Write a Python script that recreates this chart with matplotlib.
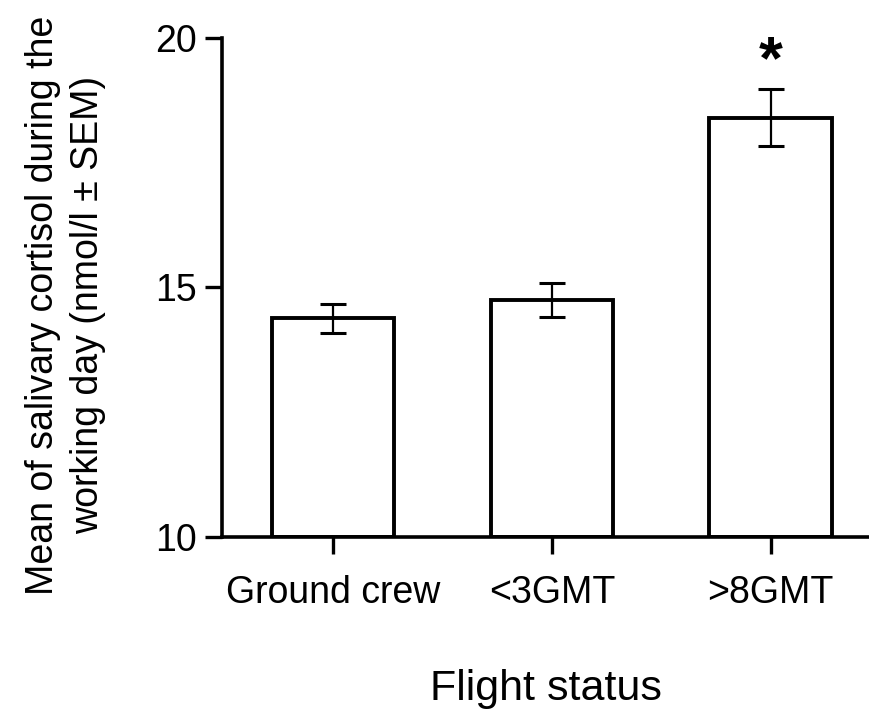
import matplotlib
matplotlib.use("Agg")
import matplotlib.pyplot as plt
import numpy as np

plt.rcParams["font.family"] = ["Liberation Sans", "DejaVu Sans"]

# data
groups = ["Ground crew", "<3GMT", ">8GMT"]
means = [14.38, 14.75, 18.40]
sems = [0.29, 0.34, 0.57]
star_y = 19.5

fig = plt.figure(figsize=(8.69, 7.11), dpi=100)
ax = fig.add_axes([0.2555, 0.2447, 0.7445, 0.7019])

x = np.arange(len(groups))
ax.bar(x, [m - 10 for m in means], width=0.56, bottom=10, color="white",
       edgecolor="black", linewidth=2.8, zorder=2)
ax.errorbar(x, means, yerr=sems, fmt="none", ecolor="black", elinewidth=1.6,
            capsize=9.5, capthick=2.2, zorder=3)
ax.text(x[2], star_y, "*", ha="center", va="center", fontsize=44,
        fontweight="bold")

ax.set_ylim(10, 20)
ax.set_xlim(-0.508, 2.45)
ax.set_yticks([10, 15, 20])
ax.set_xticks(x)
ax.set_xticklabels(groups)
ax.tick_params(axis="both", direction="out", length=12, width=2.4,
               labelsize=27, pad=6)
ax.tick_params(axis="x", pad=15)

for s in ["top", "right"]:
    ax.spines[s].set_visible(False)
for s in ["left", "bottom"]:
    ax.spines[s].set_linewidth(2.6)

ax.set_ylabel("Mean of salivary cortisol during the\nworking day (nmol/l \u00b1 SEM)",
              fontsize=27, linespacing=1.3)
ax.yaxis.set_label_coords(-0.18, 0.465)
ax.set_xlabel("Flight status", fontsize=31, labelpad=42)

fig.savefig("out.png", dpi=100)
